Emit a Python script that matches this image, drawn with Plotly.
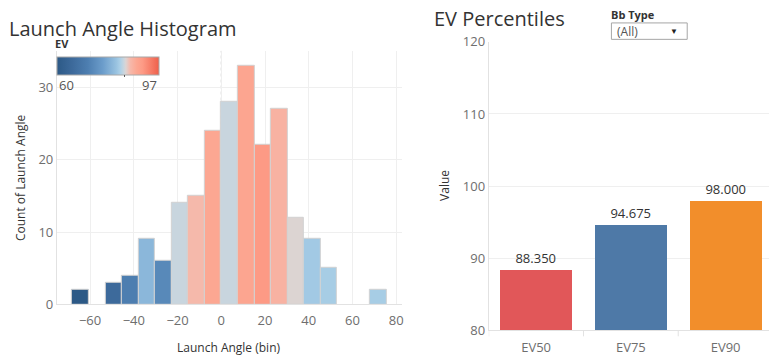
import plotly.graph_objects as go

# ---------------- data ----------------
bin_size = 7.57
bin_index = [-9, -7, -6, -5, -4, -3, -2, -1, 0, 1, 2, 3, 4, 5, 6, 9]
launch_counts = [2, 3, 4, 9, 6, 14, 15, 24, 28, 33, 22, 27, 12, 9, 5, 2]
avg_ev = [60.0, 65.5, 71.0, 80.0, 73.0, 84.2, 86.6, 88.9, 84.2, 89.2, 91.0, 87.4, 85.0, 82.2, 82.6, 82.6]
ev_legend_range = [60, 97]
ev_center = 84.6
hist_x_ticks = [-60, -40, -20, 0, 20, 40, 60, 80]
hist_y_ticks = [0, 10, 20, 30]

pct_categories = ["EV50", "EV75", "EV90"]
pct_values = [88.350, 94.675, 98.000]
pct_y_ticks = [80, 90, 100, 110, 120]

W, H = 771, 361
# vertical calibration of the capture (measured): screen_y = 8 + 0.955 * page_y
Y_OFF, Y_SCALE = 8.0, 0.955
def px(x):
    return x / W
def py(y):
    yy = (y - Y_OFF) / Y_SCALE
    return 1 - yy / H

FONT = "Open Sans"
GRID = "#efefef"
AXL = "#e2e2e2"
TICKC = "#6e6e6e"
TXT = "#333333"

colorscale = [
    [0.0, "#2c5986"], [0.15, "#3d6a9b"], [0.30, "#4d7eb0"], [0.45, "#6c9dcb"],
    [0.58, "#98c2e0"], [0.62, "#acd0e7"], [0.655, "#c9d5de"], [0.675, "#dcd4d3"],
    [0.72, "#f6b8aa"], [0.78, "#fca792"], [0.84, "#fd9a85"], [1.0, "#ef5f4a"],
]

centers = [(i + 0.5) * bin_size for i in bin_index]

fig = go.Figure()
fig.add_trace(go.Bar(
    x=centers, y=launch_counts, width=[bin_size] * len(centers),
    marker=dict(
        color=avg_ev, colorscale=colorscale,
        cmin=ev_legend_range[0], cmax=ev_legend_range[1],
        line=dict(color="#d2d2d2", width=1),
        colorbar=dict(
            orientation="h", x=px(57), xanchor="left", y=py(56), yanchor="top",
            len=102, lenmode="pixels", thickness=18, thicknessmode="pixels",
            xpad=0, ypad=0, outlinewidth=1, outlinecolor="#a8a8a8",
            showticklabels=False, ticks="",
        ),
    ),
    xaxis="x", yaxis="y", hoverinfo="x+y",
))

pct_colors = ["#e15759", "#4e79a7", "#f28e2b"]
fig.add_trace(go.Bar(
    x=pct_categories, y=pct_values, width=0.76,
    marker=dict(color=pct_colors, line=dict(width=0)),
    text=[f"{v:.3f}" for v in pct_values], textposition="outside",
    textfont=dict(family=FONT, size=13, color=TXT), cliponaxis=False,
    xaxis="x2", yaxis="y2",
))

ymax_hist = 35
fig.update_layout(
    width=W, height=H, margin=dict(l=0, r=0, t=0, b=0),
    paper_bgcolor="white", plot_bgcolor="white", showlegend=False,
    font=dict(family=FONT, color=TXT),
    bargap=0,
    xaxis=dict(domain=[px(57), px(403)], range=[-75.2, 82.6], tickvals=hist_x_ticks,
               showgrid=True, gridcolor=GRID, zeroline=False, showline=True, linecolor=AXL,
               ticks="", tickfont=dict(size=13, color=TICKC), ticklabelstandoff=4, fixedrange=True),
    yaxis=dict(domain=[py(305), py(50)], range=[0, ymax_hist], tickvals=hist_y_ticks,
               showgrid=True, gridcolor=GRID, zeroline=False, showline=True, linecolor=AXL,
               ticks="", tickfont=dict(size=13, color=TICKC), fixedrange=True),
    xaxis2=dict(domain=[px(490), 1.0], range=[-0.5, 2.458], showgrid=False, zeroline=False,
                showline=True, linecolor=AXL, ticks="", tickfont=dict(size=13, color=TICKC),
                ticklabelstandoff=5, anchor="y2", fixedrange=True),
    yaxis2=dict(domain=[py(331), py(41)], range=[80, 120], tickvals=pct_y_ticks,
                showgrid=True, gridcolor=GRID, zeroline=False, showline=True, linecolor=AXL,
                ticks="", tickfont=dict(size=13, color=TICKC), anchor="x2", fixedrange=True),
)

lx = px(57 + (ev_center - ev_legend_range[0]) / (ev_legend_range[1] - ev_legend_range[0]) * 102)
shapes = [
    dict(type="line", xref="x", yref="y", x0=0, x1=0, y0=0, y1=ymax_hist,
         line=dict(color="#b5b5b5", width=1, dash="dot"), layer="below"),
    # legend center tick
    dict(type="line", xref="paper", yref="paper", x0=lx, x1=lx,
         y0=py(70), y1=py(76), line=dict(color="black", width=1)),
    # dropdown box
    dict(type="rect", xref="paper", yref="paper", x0=px(613), x1=px(689), y0=py(38.5), y1=py(22),
         line=dict(color="#a6a6a6", width=1), fillcolor="white"),
]
for k in range(len(pct_categories)):
    shapes.append(dict(type="line", xref="x2", yref="paper", x0=k - 0.5, x1=k - 0.5,
                       y0=py(331), y1=py(337), line=dict(color=AXL, width=1)))
fig.update_layout(shapes=shapes)

ann = [
    dict(text="Launch Angle Histogram", x=px(7), y=py(28), xanchor="left", yanchor="middle",
         font=dict(size=20, color=TXT)),
    dict(text="Count of Launch Angle", x=px(20), y=py(177), textangle=-90,
         xanchor="center", yanchor="middle", font=dict(size=12, color=TXT)),
    dict(text="Launch Angle (bin)", x=px(229), y=py(348), xanchor="center", yanchor="middle",
         font=dict(size=12, color=TXT)),
    dict(text="<b>EV</b>", x=px(53), y=py(43), xanchor="left", yanchor="middle",
         font=dict(size=11, color=TXT)),
    dict(text=str(ev_legend_range[0]), x=px(57), y=py(84), xanchor="left", yanchor="middle",
         font=dict(size=13, color="#555")),
    dict(text=str(ev_legend_range[1]), x=px(159), y=py(84), xanchor="right", yanchor="middle",
         font=dict(size=13, color="#555")),
    dict(text="EV Percentiles", x=px(433), y=py(18), xanchor="left", yanchor="middle",
         font=dict(size=20, color=TXT)),
    dict(text="<b>Bb Type</b>", x=px(611), y=1.012, xanchor="left", yanchor="top",
         font=dict(size=11, color=TXT)),
    dict(text="(All)", x=px(617), y=py(30.5), xanchor="left", yanchor="middle",
         font=dict(size=12, color="#555")),
    dict(text="▼", x=px(676), y=py(30), xanchor="center", yanchor="middle",
         font=dict(size=8, color="#222")),
    dict(text="Value", x=px(445), y=py(185), textangle=-90, xanchor="center", yanchor="middle",
         font=dict(size=12, color=TXT)),
]
for a in ann:
    a.update(xref="paper", yref="paper", showarrow=False)
fig.update_layout(annotations=ann)

css_fix = (
    "var s=document.createElement('style');"
    "s.innerHTML='html,body{margin:0;padding:0;overflow:hidden;height:361px;}';"
    "document.head.appendChild(s);"
)
fig.write_html("out.html", config={"displayModeBar": False}, post_script=css_fix)
